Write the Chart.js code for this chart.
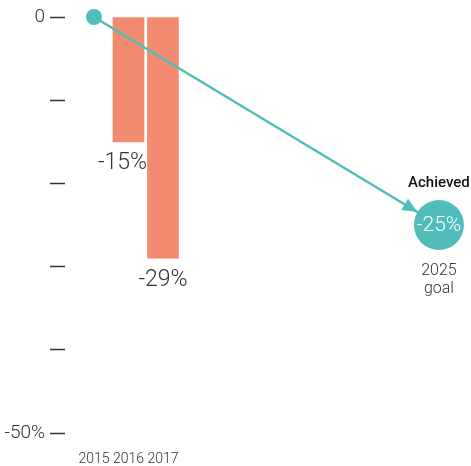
<!DOCTYPE html>
<html>
<head>
<meta charset="utf-8">
<script src="https://cdn.jsdelivr.net/npm/chart.js@4"></script>
<style>
  html, body { margin: 0; padding: 0; background: #fff; }
  #wrap { width: 471px; height: 466px; }
</style>
</head>
<body>
<div id="wrap"><canvas id="chart"></canvas></div>
<script>
const FONT = "Roboto, 'Noto Sans', sans-serif";

// measured years and reduction (%)
const barYears = [2016, 2017];
const barValues = [-15, -29];
const pathYears = [2015, 2025];
const pathValues = [0, -25];
const xTickYears = [2015, 2016, 2017];
const yTickValues = [0, -10, -20, -30, -40, -50];

const SALMON = '#f28b70';
const TEAL = '#50bdba';
const INK = '#333333';

// value labels, arrow head and the goal annotation
const annotate = {
  id: 'annotate',
  afterDatasetsDraw(chart) {
    const ctx = chart.ctx;
    const xs = chart.scales.x, ys = chart.scales.y;
    ctx.save();

    // labels under the bars
    ctx.fillStyle = INK;
    ctx.font = '300 23px ' + FONT;
    ctx.textAlign = 'center';
    ctx.textBaseline = 'top';
    chart.getDatasetMeta(0).data.forEach((bar, i) => {
      ctx.fillText(barValues[i] + '%', bar.x - 6 * (i === 0), bar.y + 10);
    });

    // arrow head touching the goal circle
    const x0 = xs.getPixelForValue(pathYears[0]), y0 = ys.getPixelForValue(pathValues[0]);
    const x1 = xs.getPixelForValue(pathYears[1]), y1 = ys.getPixelForValue(pathValues[1]);
    const ang = Math.atan2(y1 - y0, x1 - x0);
    const r = 25;
    const tx = x1 - Math.cos(ang) * r, ty = y1 - Math.sin(ang) * r;
    const len = 15, half = 6.5;
    const bx = tx - Math.cos(ang) * len, by = ty - Math.sin(ang) * len;
    ctx.fillStyle = TEAL;
    ctx.beginPath();
    ctx.moveTo(tx, ty);
    ctx.lineTo(bx + Math.sin(ang) * half, by - Math.cos(ang) * half);
    ctx.lineTo(bx - Math.sin(ang) * half, by + Math.cos(ang) * half);
    ctx.closePath();
    ctx.fill();

    // goal circle text
    ctx.textBaseline = 'middle';
    ctx.fillStyle = '#ffffff';
    ctx.font = '300 21px ' + FONT;
    ctx.fillText(pathValues[1] + '%', x1, y1 + 1);

    ctx.fillStyle = '#111';
    ctx.font = '500 15px ' + FONT;
    ctx.fillText('Achieved', x1, y1 - 42);

    ctx.fillStyle = INK;
    ctx.font = '300 16px ' + FONT;
    ctx.fillText(String(pathYears[1]), x1, y1 + 46);
    ctx.fillText('goal', x1, y1 + 64);
    ctx.restore();
  }
};

new Chart(document.getElementById('chart'), {
  data: {
    datasets: [
      {
        type: 'bar',
        data: barYears.map((yr, i) => ({ x: yr, y: barValues[i] })),
        backgroundColor: SALMON,
        barThickness: 31,
        order: 2
      },
      {
        type: 'line',
        data: pathYears.map((yr, i) => ({ x: yr, y: pathValues[i] })),
        borderColor: TEAL,
        borderWidth: 2.5,
        pointRadius: [8, 25],
        pointHoverRadius: [8, 25],
        pointBackgroundColor: TEAL,
        pointBorderWidth: 0,
        clip: false,
        order: 1
      }
    ]
  },
  options: {
    responsive: true,
    maintainAspectRatio: false,
    animation: false,
    layout: { autoPadding: false, padding: { top: 17, right: 0, left: 0, bottom: 0 } },
    plugins: { legend: { display: false }, tooltip: { enabled: false } },
    scales: {
      x: {
        type: 'linear',
        min: 2014.16,
        max: 2025.93,
        offset: false,
        grid: { display: false },
        border: { display: false },
        afterBuildTicks: (scale) => { scale.ticks = xTickYears.map(v => ({ value: v })); },
        afterFit: (scale) => { scale.height = 33; },
        ticks: {
          padding: 10,
          color: INK,
          font: { family: FONT, size: 14, weight: '300' },
          maxRotation: 0,
          autoSkip: false,
          callback: (v) => String(v)
        }
      },
      y: {
        min: -50,
        max: 0,
        afterBuildTicks: (scale) => { scale.ticks = yTickValues.map(v => ({ value: v })); },
        afterFit: (scale) => { scale.width = 65; },
        border: { display: false },
        grid: {
          drawOnChartArea: false,
          tickLength: 15,
          tickColor: INK,
          tickWidth: 1.5
        },
        ticks: {
          padding: 5,
          color: INK,
          font: { family: FONT, size: 19, weight: '300' },
          callback: (v) => v === 0 ? '0' : (v === -50 ? '-50%' : '')
        }
      }
    }
  },
  plugins: [annotate]
});
</script>
</body>
</html>
